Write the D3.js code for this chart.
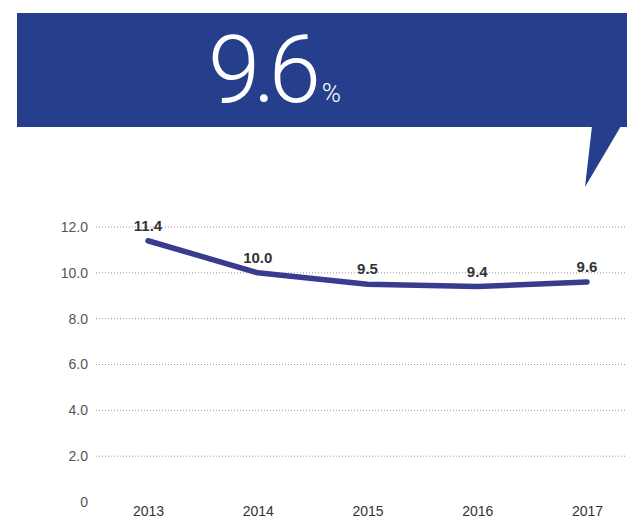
<!DOCTYPE html>
<html>
<head>
<meta charset="utf-8">
<script src="https://cdn.jsdelivr.net/npm/d3@7"></script>
<style>
  html, body { margin: 0; padding: 0; background: #fff; }
  svg { display: block; }
</style>
</head>
<body>
<svg id="chart" width="627" height="518"></svg>
<script>
// Yearly rate, percent
const years = ["2013", "2014", "2015", "2016", "2017"];
const rates = [11.4, 10.0, 9.5, 9.4, 9.6];
const yTicks = [0, 2, 4, 6, 8, 10, 12];
const headline = "9.6";
const headlineUnit = "%";

const W = 627, H = 518;
const svg = d3.select("#chart");

const blue = "#263f8d";
const lineBlue = "#373c8e";

// Callout banner with a tail pointing down toward the latest point
svg.append("rect")
  .attr("x", 17).attr("y", 13)
  .attr("width", W - 17).attr("height", 114)
  .attr("fill", blue);
svg.append("path")
  .attr("d", "M592,126 L621,126 L585,187 Z")
  .attr("fill", blue);

const head = svg.append("text")
  .attr("x", 208).attr("y", 102)
  .attr("fill", "#fff")
  .style("font-family", "Roboto, 'Liberation Sans', sans-serif")
  .style("font-weight", 300);
head.append("tspan").text(headline)
  .style("font-size", "94px")
  .style("letter-spacing", "-7px");
head.append("tspan").text(headlineUnit)
  .style("font-size", "26px")
  .attr("dx", 8);

// Scales
const x = d3.scalePoint().domain(years).range([148, 587]);
const y = d3.scaleLinear().domain([0, 12]).range([502, 227]);

// Dotted horizontal gridlines (no line at zero)
svg.append("g")
  .selectAll("line")
  .data(yTicks.filter(d => d > 0))
  .join("line")
  .attr("x1", 96).attr("x2", W)
  .attr("y1", d => y(d)).attr("y2", d => y(d))
  .attr("stroke", "#9a9a9a")
  .attr("stroke-width", 1)
  .attr("stroke-dasharray", "1,2");

// Y axis labels
const yAxis = d3.axisLeft(y)
  .tickValues(yTicks)
  .tickSize(0)
  .tickPadding(0)
  .tickFormat(d => d === 0 ? "0" : d3.format(".1f")(d));
const gy = svg.append("g").attr("transform", "translate(88,0)").call(yAxis);
gy.select(".domain").remove();
gy.selectAll("text")
  .attr("fill", "#555")
  .style("font-family", "'Liberation Sans', Arial, sans-serif")
  .style("font-size", "14px");

// X axis labels
const xAxis = d3.axisBottom(x).tickSize(0).tickPadding(0);
const gx = svg.append("g").attr("transform", "translate(0,506)").call(xAxis);
gx.select(".domain").remove();
gx.selectAll("text")
  .attr("fill", "#333")
  .style("font-family", "'Liberation Sans', Arial, sans-serif")
  .style("font-size", "14px");

// Line
const pts = years.map((yr, i) => [x(yr), y(rates[i])]);
svg.append("path")
  .attr("d", d3.line()(pts))
  .attr("fill", "none")
  .attr("stroke", lineBlue)
  .attr("stroke-width", 5.5)
  .attr("stroke-linecap", "round")
  .attr("stroke-linejoin", "round");

// Value labels
svg.append("g")
  .selectAll("text")
  .data(years.map((yr, i) => ({ yr, v: rates[i] })))
  .join("text")
  .attr("x", d => x(d.yr))
  .attr("y", d => y(d.v) - 10)
  .attr("text-anchor", "middle")
  .attr("fill", "#333")
  .style("font-family", "'Liberation Sans', Arial, sans-serif")
  .style("font-size", "15px")
  .style("font-weight", "bold")
  .text(d => d3.format(".1f")(d.v));
</script>
</body>
</html>
